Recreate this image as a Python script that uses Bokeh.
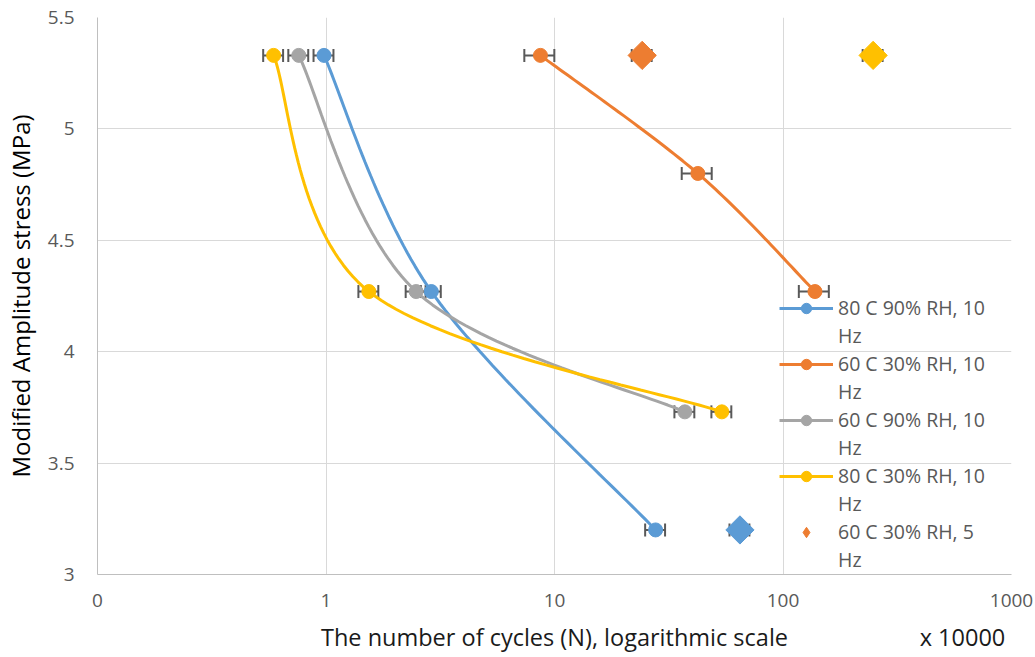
import numpy as np
from bokeh.plotting import figure
from bokeh.models import (ColumnDataSource, Whisker, TeeHead, Legend, LegendItem,
                          FixedTicker, LogAxis)
from bokeh.embed import file_html
from bokeh.resources import INLINE

# ---------------- data (cycles in units of 10000) ----------------
series_names = ["80 C 90% RH, 10 Hz", "60 C 30% RH, 10 Hz",
                "60 C 90% RH, 10 Hz", "80 C 30% RH, 10 Hz"]
series_colors = ["#5B9BD5", "#ED7D31", "#A5A5A5", "#FFC000"]

blue_x = [0.98, 2.89, 27.7]
blue_y = [5.33, 4.27, 3.20]
blue_err = [0.10, 0.10, 0.10]

orange_x = [8.68, 42.4, 138.0]
orange_y = [5.33, 4.80, 4.27]
orange_err = [0.15, 0.15, 0.15]

gray_x = [0.76, 2.48, 37.2]
gray_y = [5.33, 4.27, 3.73]
gray_err = [0.10, 0.10, 0.10]

yellow_x = [0.59, 1.54, 54.0]
yellow_y = [5.33, 4.27, 3.73]
yellow_err = [0.10, 0.10, 0.10]

diamond_x = [24.2, 64.8, 248.0]
diamond_y = [5.33, 3.20, 5.33]
diamond_err = [0.10, 0.10, 0.10]
diamond_colors = ["#ED7D31", "#5B9BD5", "#FFC000"]
diamond_label = "60 C 30% RH, 5 Hz"

x_ticks = [0.1, 1, 10, 100, 1000]
x_tick_labels = ["0", "1", "10", "100", "1000"]
y_ticks = [3, 3.5, 4, 4.5, 5, 5.5]
y_tick_labels = ["3", "3.5", "4", "4.5", "5", "5.5"]
x_title = "The number of cycles (N), logarithmic scale"
x_unit_note = "x 10000"

# ---------------- layout ----------------
W, H = 1035, 657
L, R, T, B = 97, 24, 17, 83
FW, FH = W - L - R, H - T - B
XMIN, XMAX, YMIN, YMAX = 0.1, 1000, 3, 5.5
px_per_dec = FW / (np.log10(XMAX) - np.log10(XMIN))
px_per_y = FH / (YMAX - YMIN)
# positions (along the log axis) of the bottom title and the unit note
title_at = 10 ** ((np.log10(XMIN) + np.log10(XMAX)) / 2)
note_at = 10 ** (np.log10(XMAX) - 49 / px_per_dec)


def smooth(xs, ys, n=40):
    u = np.log10(np.array(xs, float)) * px_per_dec
    v = np.array(ys, float) * px_per_y
    P = np.column_stack([u, v])
    k = len(P)
    out = []
    for i in range(k - 1):
        p0 = P[max(i - 1, 0)]
        p1 = P[i]
        p2 = P[i + 1]
        p3 = P[min(i + 2, k - 1)]
        c1 = p1 + (p2 - p0) / 6.0
        c2 = p2 - (p3 - p1) / 6.0
        t = np.linspace(0, 1, n)[:, None]
        seg = ((1 - t) ** 3) * p1 + 3 * ((1 - t) ** 2) * t * c1 + 3 * (1 - t) * t ** 2 * c2 + t ** 3 * p2
        out.append(seg if i == 0 else seg[1:])
    S = np.vstack(out)
    return 10 ** (S[:, 0] / px_per_dec), S[:, 1] / px_per_y


FONT = "Open Sans"
GREY_TXT = "#595959"

p = figure(width=W, height=H, x_axis_type="log", x_range=(XMIN, XMAX), y_range=(YMIN, YMAX),
           output_backend="svg", toolbar_location=None,
           min_border_left=L, min_border_right=R, min_border_top=T, min_border_bottom=B)
p.outline_line_color = None
p.background_fill_color = "white"
p.border_fill_color = "white"


def style_axis(ax):
    ax.major_tick_line_color = None
    ax.minor_tick_line_color = None
    ax.major_tick_out = 0
    ax.major_tick_in = 0
    ax.minor_tick_out = 0
    ax.minor_tick_in = 0
    ax.axis_line_color = "#BFBFBF"
    ax.axis_line_width = 1
    ax.major_label_text_font = FONT
    ax.major_label_text_font_size = "19px"
    ax.major_label_text_color = GREY_TXT
    ax.axis_label_text_font = FONT
    ax.axis_label_text_font_size = "24px"
    ax.axis_label_text_font_style = "normal"
    ax.axis_label_text_color = "#000000"


style_axis(p.xaxis[0])
style_axis(p.yaxis[0])

p.xaxis.ticker = FixedTicker(ticks=x_ticks, minor_ticks=[])
p.xaxis.major_label_overrides = {t: s for t, s in zip(x_ticks, x_tick_labels)}
p.yaxis.ticker = FixedTicker(ticks=y_ticks, minor_ticks=[])
p.yaxis.major_label_overrides = {t: s for t, s in zip(y_ticks, y_tick_labels)}
p.yaxis.axis_label = "Modified Amplitude stress (MPa)"
p.xaxis.major_label_standoff = 19
p.yaxis.major_label_standoff = 23
p.yaxis.axis_label_standoff = 8

# second bottom row: axis title and the "x 10000" unit note on one line
title_axis = LogAxis(ticker=FixedTicker(ticks=[title_at, note_at], minor_ticks=[]))
style_axis(title_axis)
title_axis.axis_line_color = None
title_axis.major_label_overrides = {title_at: x_title, note_at: x_unit_note}
title_axis.major_label_text_font_size = "23.5px"
title_axis.major_label_text_color = "#1a1a1a"
title_axis.major_label_standoff = 11
p.add_layout(title_axis, "below")

p.xgrid.grid_line_color = "#D9D9D9"
p.ygrid.grid_line_color = "#D9D9D9"
p.xgrid.grid_line_width = 1
p.ygrid.grid_line_width = 1
p.xgrid.minor_grid_line_color = None

ERR_COLOR = "#595959"


def add_errors(xs, ys, errs):
    src = ColumnDataSource(dict(base=list(ys),
                                lower=[x * (1 - e) for x, e in zip(xs, errs)],
                                upper=[x * (1 + e) for x, e in zip(xs, errs)]))
    w = Whisker(base="base", lower="lower", upper="upper", dimension="width", source=src,
                line_color=ERR_COLOR, line_width=2,
                lower_head=TeeHead(size=13, line_color=ERR_COLOR, line_width=2),
                upper_head=TeeHead(size=13, line_color=ERR_COLOR, line_width=2))
    p.add_layout(w)


all_series = [(blue_x, blue_y, blue_err), (orange_x, orange_y, orange_err),
              (gray_x, gray_y, gray_err), (yellow_x, yellow_y, yellow_err)]

for xs, ys, errs in all_series:
    add_errors(xs, ys, errs)
add_errors(diamond_x, diamond_y, diamond_err)

line_rs = []
for (xs, ys, errs), col in zip(all_series, series_colors):
    sx, sy = smooth(xs, ys)
    lr = p.line(sx, sy, line_color=col, line_width=3)
    cr = p.scatter(xs, ys, marker="circle", size=14, fill_color=col, line_color=col)
    line_rs.append((lr, cr))

dsrc = ColumnDataSource(dict(x=diamond_x, y=diamond_y, c=diamond_colors))
diamond_r = p.scatter("x", "y", source=dsrc, marker="square", angle=np.pi / 4, size=20,
                      fill_color="c", line_color="c")
# hidden copy used only for the legend swatch (legend ignores marker angle)
diamond_legend_r = p.scatter(diamond_x[:1], diamond_y[:1], marker="diamond", size=20,
                             fill_color=diamond_colors[0], line_color=diamond_colors[0],
                             visible=False)

# ---------------- legend ----------------
blank = p.line([], [], line_alpha=0)

items = []
for name, (lr, cr) in zip(series_names, line_rs):
    first, second = name.rsplit(" ", 1)
    items.append(LegendItem(label=first, renderers=[lr, cr]))
    items.append(LegendItem(label=second, renderers=[blank]))
first, second = diamond_label.rsplit(" ", 1)
items.append(LegendItem(label=first, renderers=[diamond_legend_r]))
items.append(LegendItem(label=second, renderers=[blank]))

legend = Legend(items=items, location=(682, 1), glyph_width=54, glyph_height=26,
                label_height=26, label_standoff=5, spacing=1, padding=0, margin=0,
                border_line_color=None, background_fill_alpha=0,
                label_text_font=FONT, label_text_font_size="19.5px",
                label_text_color=GREY_TXT)
p.add_layout(legend)

open("out.html", "w").write(file_html(p, INLINE))
